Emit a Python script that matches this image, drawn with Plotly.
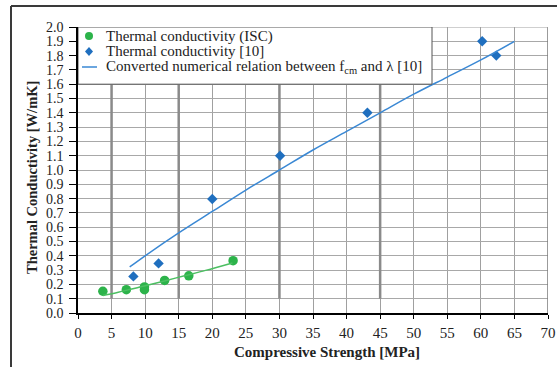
import plotly.graph_objects as go

# ---- data ----
isc_x = [3.7, 7.2, 9.9, 9.9, 12.9, 16.5, 23.1]
isc_y = [0.152, 0.163, 0.182, 0.163, 0.228, 0.260, 0.366]

isc_fit_x = [3.7, 6, 8, 10, 13, 16, 19, 23]
isc_fit_y = [0.122, 0.145, 0.168, 0.190, 0.226, 0.262, 0.298, 0.350]

ref_x = [8.25, 12.0, 20.0, 30.1, 43.1, 60.2, 62.3]
ref_y = [0.256, 0.347, 0.797, 1.10, 1.40, 1.90, 1.80]

conv_x = [7.7, 10, 15, 20, 25, 30, 35, 40, 45, 50, 55, 60, 65]
conv_y = [0.322, 0.40, 0.56, 0.71, 0.86, 1.00, 1.14, 1.27, 1.40, 1.53, 1.65, 1.77, 1.90]

thick_grid_x = [5, 15, 30, 45]

x_ticks = list(range(0, 71, 5))
y_ticks = [round(i * 0.1, 1) for i in range(0, 21)]

names = ["Thermal conductivity (ISC)",
         "Thermal conductivity [10]",
         "Converted numerical relation between f<sub>cm</sub> and λ [10]"]
x_title = "<b>Compressive Strength [MPa]</b>"
y_title = "<b>Thermal Conductivity [W/mK]</b>"

GREEN = "#2cb34a"
GREEN_L = "#4cbf62"
BLUE = "#1f6fbf"
BLUE_L = "#3a88d4"
FONT = "Liberation Serif, Times New Roman, serif"
TXT = "#222222"

W, H = 557, 367
ML, MR, MT, MB = 78, 9, 27, 54
PW = W - ML - MR
PH = H - MT - MB
X_MAX = 70


def px_x(p):
    return (p - ML) / PW


def px_y(p):
    return (H - MB - p) / PH


fig = go.Figure()

fig.add_trace(go.Scatter(x=isc_x, y=isc_y, mode="markers", name=names[0], showlegend=False,
                         marker=dict(symbol="circle", size=9.5, color=GREEN)))
fig.add_trace(go.Scatter(x=ref_x, y=ref_y, mode="markers", name=names[1], showlegend=False,
                         marker=dict(symbol="diamond", size=8, color=BLUE)))
fig.add_trace(go.Scatter(x=conv_x, y=conv_y, mode="lines", name=names[2], showlegend=False,
                         line=dict(color=BLUE_L, width=1.5, shape="spline")))
fig.add_trace(go.Scatter(x=isc_fit_x, y=isc_fit_y, mode="lines", showlegend=False,
                         line=dict(color=GREEN_L, width=1.5, shape="spline")))

shapes = []
for gx in thick_grid_x:
    shapes.append(dict(type="line", xref="x", yref="y", x0=gx, x1=gx, y0=0.1, y1=1.6,
                       line=dict(color="#8a8a8a", width=2.5), layer="between"))
# right border and top line
shapes.append(dict(type="line", xref="x", yref="y", x0=70, x1=70, y0=0, y1=2.0,
                   line=dict(color="#7a7a7a", width=1.5), layer="between"))
shapes.append(dict(type="line", xref="x", yref="y", x0=0, x1=70, y0=2.0, y1=2.0,
                   line=dict(color="#a0a0a0", width=1), layer="between"))
# legend box
shapes.append(dict(type="rect", xref="x", yref="y", x0=0, x1=px_x(432) * X_MAX, y0=1.6, y1=2.0,
                   line=dict(color="#555555", width=1), fillcolor="white", layer="above"))
# legend symbols
rows = [36, 51.5, 67]
mx = px_x(89)
shapes.append(dict(type="circle", xref="paper", yref="paper", xsizemode="pixel", ysizemode="pixel",
                   xanchor=mx, yanchor=px_y(rows[0]), x0=-4, x1=4, y0=-4, y1=4,
                   fillcolor=GREEN, line=dict(width=0), layer="above"))
shapes.append(dict(type="path", xref="paper", yref="paper", xsizemode="pixel", ysizemode="pixel",
                   xanchor=mx, yanchor=px_y(rows[1]), path="M 0 4.5 L 4 0 L 0 -4.5 L -4 0 Z",
                   fillcolor=BLUE, line=dict(width=0), layer="above"))
shapes.append(dict(type="line", xref="paper", yref="paper", x0=px_x(82), x1=px_x(97),
                   y0=px_y(rows[2]), y1=px_y(rows[2]),
                   line=dict(color=BLUE_L, width=1.5), layer="above"))
# outer frame (left and top edges of the surrounding box)
shapes.append(dict(type="line", xref="paper", yref="paper", x0=px_x(11), x1=px_x(11),
                   y0=px_y(6), y1=px_y(H + 2), line=dict(color="#3a3a3a", width=2), layer="above"))
shapes.append(dict(type="line", xref="paper", yref="paper", x0=px_x(11), x1=px_x(W + 2),
                   y0=px_y(6), y1=px_y(6), line=dict(color="#3a3a3a", width=2), layer="above"))

annotations = []
for name, r in zip(names, rows):
    annotations.append(dict(text=name, xref="paper", yref="paper", x=px_x(104), y=px_y(r),
                            xanchor="left", yanchor="middle", showarrow=False,
                            font=dict(family=FONT, size=15, color=TXT)))
# axis titles
annotations.append(dict(text=x_title, xref="paper", yref="paper", x=px_x(327), y=px_y(342),
                        xanchor="center", yanchor="top", showarrow=False,
                        font=dict(family=FONT, size=15, color=TXT)))
annotations.append(dict(text=y_title, xref="paper", yref="paper", x=px_x(32), y=px_y(178),
                        xanchor="center", yanchor="middle", showarrow=False, textangle=-90,
                        font=dict(family=FONT, size=14.5, color=TXT)))

fig.update_layout(
    width=W, height=H,
    margin=dict(l=ML, r=MR, t=MT, b=MB),
    paper_bgcolor="white", plot_bgcolor="white",
    font=dict(family=FONT, size=15, color=TXT),
    shapes=shapes,
    annotations=annotations,
    showlegend=False,
    xaxis=dict(range=[0, X_MAX], tickvals=x_ticks, ticktext=[str(v) for v in x_ticks],
               showgrid=True, gridcolor="#a0a0a0", gridwidth=1,
               showline=True, linecolor="black", linewidth=1.5,
               ticks="outside", ticklen=4, tickcolor="black",
               tickfont=dict(family=FONT, size=15, color=TXT),
               ticklabelstandoff=1,
               zeroline=False, automargin=False),
    yaxis=dict(range=[0, 2.0], tickvals=y_ticks, ticktext=[f"{v:.1f}" for v in y_ticks],
               showgrid=True, gridcolor="#a8a8a8", gridwidth=1,
               showline=True, linecolor="black", linewidth=1.5,
               ticks="outside", ticklen=7, tickcolor="black",
               tickfont=dict(family=FONT, size=14, color=TXT),
               ticklabelstandoff=3,
               zeroline=False, automargin=False),
)

fig.write_html("out.html", config={"displayModeBar": False},
               post_script="document.body.style.margin='0';document.body.style.overflow='hidden';")
